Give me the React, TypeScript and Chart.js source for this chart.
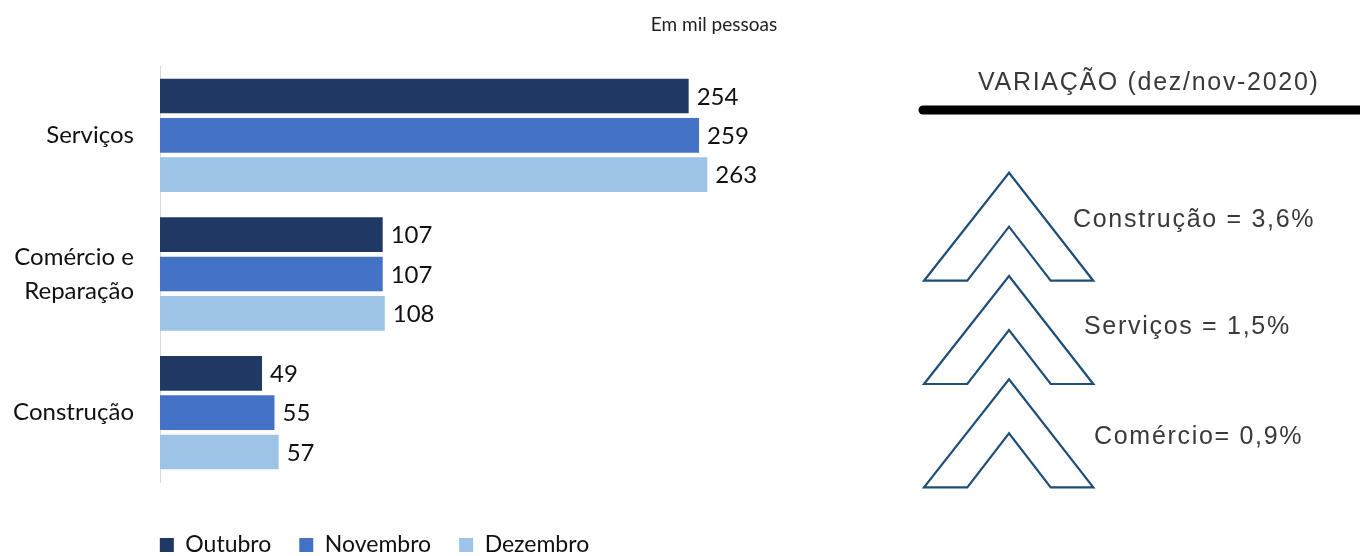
import React, { useEffect, useRef } from 'react';
import { Chart, registerables } from 'chart.js';

Chart.register(...registerables);

// ---- Data ----
const categories: string[][] = [['Serviços'], ['Comércio e', 'Reparação'], ['Construção']];
const seriesNames = ['Outubro', 'Novembro', 'Dezembro'];
const outubro = [254, 107, 49];
const novembro = [259, 107, 55];
const dezembro = [263, 108, 57];
const seriesColors = ['#203864', '#4472C4', '#9DC3E6'];
const xAxisMax = 283;
const chartTitle = 'Em mil pessoas';
const panelTitle = 'VARIAÇÃO (dez/nov-2020)';
const variationLabels = ['Construção = 3,6%', 'Serviços = 1,5%', 'Comércio= 0,9%'];

const valueLabelPlugin = {
  id: 'valueLabels',
  afterDatasetsDraw(chart: any) {
    const ctx = chart.ctx;
    ctx.save();
    ctx.font = '24px Lato';
    ctx.fillStyle = '#111';
    ctx.textAlign = 'left';
    ctx.textBaseline = 'middle';
    chart.data.datasets.forEach((ds: any, i: number) => {
      chart.getDatasetMeta(i).data.forEach((bar: any, j: number) => {
        ctx.fillText(String(ds.data[j]), bar.x + 8, bar.y + 1);
      });
    });
    ctx.restore();
  },
};

const decorPlugin = {
  id: 'decor',
  afterDraw(chart: any) {
    const ctx = chart.ctx as CanvasRenderingContext2D;
    // chart subtitle
    ctx.save();
    ctx.font = '19px Lato';
    ctx.fillStyle = '#222';
    ctx.textAlign = 'center';
    ctx.textBaseline = 'middle';
    ctx.fillText(chartTitle, 714, 25);
    ctx.restore();

    // right panel
    ctx.save();
    (ctx as any).letterSpacing = '1.7px';
    ctx.font = '25px "Liberation Sans"';
    ctx.fillStyle = '#3b3838';
    ctx.textAlign = 'left';
    ctx.textBaseline = 'middle';
    ctx.fillText(panelTitle, 978, 83);

    ctx.strokeStyle = '#000';
    ctx.lineWidth = 9;
    ctx.lineCap = 'round';
    ctx.beginPath();
    ctx.moveTo(923, 110);
    ctx.lineTo(1380, 110);
    ctx.stroke();

    ctx.lineCap = 'butt';
    ctx.lineJoin = 'miter';
    ctx.strokeStyle = '#1F4E79';
    ctx.lineWidth = 2.2;
    for (let i = 0; i < 3; i++) {
      const top = 172.7 + i * 103.3;
      const bot = top + 108;
      ctx.beginPath();
      ctx.moveTo(1009, top);
      ctx.lineTo(1093.3, bot);
      ctx.lineTo(1050.7, bot);
      ctx.lineTo(1009, top + 54);
      ctx.lineTo(967.3, bot);
      ctx.lineTo(924, bot);
      ctx.closePath();
      ctx.fillStyle = '#fff';
      ctx.fill();
      ctx.stroke();
    }

    const textPos = [
      [1073, 220],
      [1084, 327],
      [1094, 437],
    ];
    ctx.fillStyle = '#3b3838';
    variationLabels.forEach((t, i) => {
      ctx.fillText(t, textPos[i][0], textPos[i][1]);
    });
    ctx.restore();
  },
};

export default function App() {
  const ref = useRef<HTMLCanvasElement>(null);

  useEffect(() => {
    if (!ref.current) return;
    const values = [outubro, novembro, dezembro];
    const chart = new Chart(ref.current, {
      type: 'bar',
      data: {
        labels: categories,
        datasets: seriesNames.map((name, i) => ({
          label: name,
          data: values[i],
          backgroundColor: seriesColors[i],
          borderWidth: 0,
          categoryPercentage: 0.851,
          barPercentage: 0.883,
        })),
      },
      options: {
        indexAxis: 'y',
        responsive: false,
        animation: false,
        devicePixelRatio: 1,
        layout: { padding: { top: 66, left: 0, right: 611, bottom: 0 } },
        scales: {
          x: {
            min: 0,
            max: xAxisMax,
            grid: { display: false },
            border: { display: false },
            ticks: { display: false },
            afterFit: (s: any) => {
              s.height = 23.5;
            },
          },
          y: {
            grid: { display: false, drawTicks: false },
            border: { display: true, color: '#d9d9d9', width: 1 },
            ticks: {
              padding: 26,
              color: '#111',
              font: { family: 'Lato', size: 24, lineHeight: 1.42 },
            },
            afterFit: (s: any) => {
              s.width = 160;
            },
          },
        },
        plugins: {
          legend: {
            position: 'bottom',
            maxHeight: 50.5,
            labels: {
              boxWidth: 14,
              boxHeight: 14,
              padding: 28,
              color: '#111',
              font: { family: 'Lato', size: 23 },
            },
          },
          tooltip: { enabled: false },
          title: { display: false },
        },
      } as any,
      plugins: [valueLabelPlugin, decorPlugin],
    });
    return () => chart.destroy();
  }, []);

  return (
    <div style={{ position: 'absolute', left: 0, top: 0, width: 1360, height: 556, background: '#fff' }}>
      <canvas ref={ref} width={1360} height={556} style={{ display: 'block' }} />
    </div>
  );
}
